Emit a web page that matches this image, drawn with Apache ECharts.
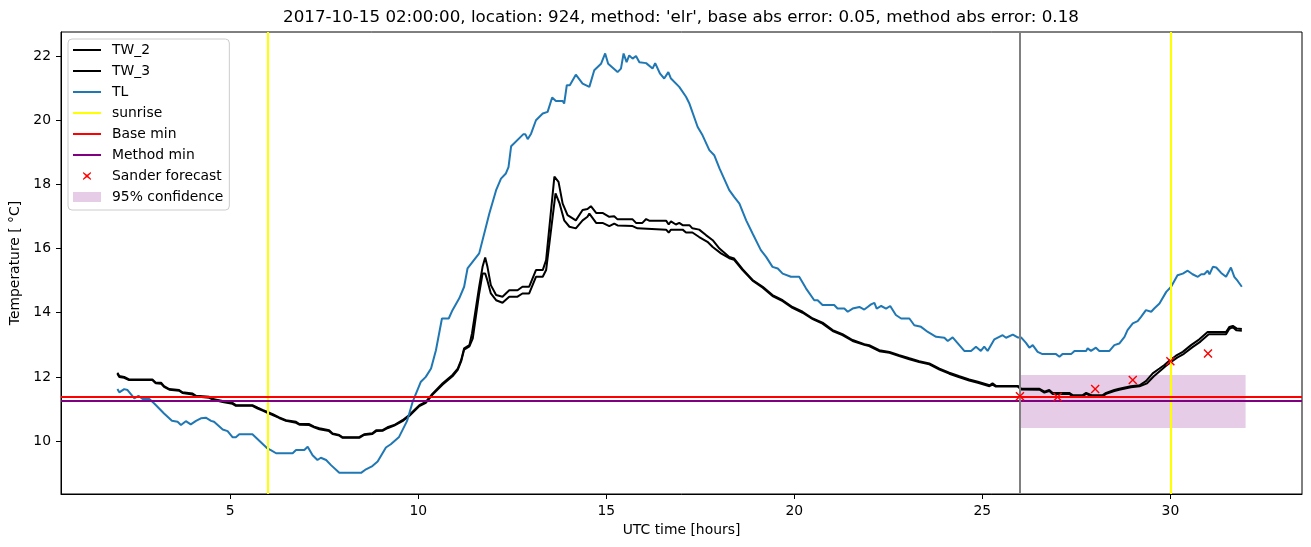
<!DOCTYPE html>
<html>
<head>
<meta charset="utf-8">
<script src="https://cdn.jsdelivr.net/npm/echarts@6/dist/echarts.min.js"></script>
<style>
html,body{margin:0;padding:0;background:#fff;}
#chart{width:1311px;height:547px;}
</style>
</head>
<body>
<div id="chart"></div>
<script>
// ---- data (hours UTC since start of day, temperature in °C) ----
const titleText = "2017-10-15 02:00:00, location: 924, method: 'elr', base abs error: 0.05, method abs error: 0.18";
const xTicks = [5, 10, 15, 20, 25, 30];
const yTicks = [10, 12, 14, 16, 18, 20, 22];

const tw2Hours = [2.00,2.05,2.18,2.31,2.93,3.02,3.16,3.24,3.38,3.64,3.73,4.00,4.09,4.44,4.57,4.80,5.06,5.15,5.59,5.73,5.86,5.99,6.13,6.30,6.48,6.75,6.84,7.10,7.23,7.37,7.63,7.72,7.90,7.99,8.43,8.56,8.78,8.88,9.05,9.18,9.36,9.58,9.76,10.03,10.20,10.38,10.65,10.91,11.05,11.14,11.22,11.36,11.43,11.62,11.71,11.78,11.84,11.93,12.07,12.24,12.42,12.64,12.77,12.95,13.13,13.31,13.40,13.62,13.73,13.84,13.97,14.19,14.37,14.50,14.59,14.73,14.90,15.08,15.21,15.30,15.70,15.79,15.96,16.06,16.14,16.59,16.66,16.72,16.85,16.94,17.03,17.21,17.29,17.47,17.65,17.83,18.01,18.27,18.40,18.63,18.89,19.16,19.42,19.69,19.95,20.22,20.49,20.75,21.02,21.28,21.55,21.86,21.99,22.26,22.53,22.79,23.06,23.32,23.59,23.86,24.12,24.39,24.65,24.88,25.19,25.27,25.36,25.94,26.03,26.52,26.65,26.78,26.87,27.31,27.40,27.67,27.76,27.90,28.20,28.29,28.51,28.64,28.95,29.18,29.35,29.53,29.71,29.84,29.97,30.15,30.33,30.55,30.77,30.99,31.48,31.57,31.66,31.76,31.90];
const tw2Temps = [12.13,12.03,12.00,11.92,11.92,11.82,11.82,11.71,11.62,11.59,11.52,11.48,11.41,11.38,11.30,11.25,11.19,11.12,11.12,11.04,10.97,10.91,10.84,10.74,10.65,10.60,10.53,10.53,10.45,10.40,10.34,10.24,10.19,10.12,10.12,10.21,10.24,10.34,10.34,10.43,10.50,10.65,10.81,11.12,11.22,11.48,11.80,12.06,12.26,12.52,12.89,12.99,13.36,14.81,15.43,15.72,15.43,14.86,14.55,14.50,14.70,14.70,14.81,14.81,15.33,15.33,15.64,18.24,18.08,17.40,17.04,16.88,17.20,17.23,17.32,17.11,17.11,16.99,17.01,16.91,16.91,16.80,16.80,16.92,16.87,16.87,16.75,16.85,16.75,16.80,16.73,16.73,16.63,16.59,16.42,16.26,16.00,15.74,15.69,15.35,15.02,14.81,14.55,14.39,14.18,14.03,13.82,13.69,13.46,13.33,13.15,13.02,12.99,12.83,12.78,12.68,12.58,12.49,12.42,12.26,12.13,12.02,11.92,11.85,11.74,11.80,11.72,11.72,11.64,11.63,11.54,11.59,11.50,11.50,11.43,11.43,11.50,11.43,11.43,11.50,11.59,11.63,11.71,11.74,11.87,12.11,12.26,12.37,12.50,12.66,12.78,12.99,13.17,13.40,13.40,13.56,13.59,13.51,13.49];

const tw3Hours = [2.00,2.05,2.18,2.31,2.93,3.02,3.16,3.24,3.38,3.64,3.73,4.00,4.09,4.44,4.57,4.80,5.06,5.15,5.59,5.73,5.86,5.99,6.13,6.30,6.48,6.75,6.84,7.10,7.23,7.37,7.63,7.72,7.90,7.99,8.43,8.56,8.78,8.88,9.05,9.18,9.36,9.58,9.76,10.03,10.20,10.38,10.65,10.91,11.05,11.14,11.22,11.36,11.45,11.62,11.71,11.78,11.84,11.93,12.07,12.24,12.42,12.64,12.77,12.95,13.13,13.31,13.40,13.65,13.76,13.88,14.02,14.19,14.37,14.50,14.55,14.73,14.90,15.08,15.21,15.30,15.70,15.83,16.59,16.66,16.72,17.03,17.12,17.29,17.47,17.69,17.83,18.05,18.27,18.40,18.63,18.89,19.16,19.42,19.69,19.95,20.22,20.49,20.75,21.02,21.28,21.55,21.86,21.99,22.26,22.53,22.79,23.06,23.32,23.59,23.86,24.12,24.39,24.65,24.88,25.19,25.27,25.36,25.94,26.03,26.52,26.65,26.78,26.87,27.31,27.40,27.67,27.76,27.90,28.20,28.29,28.51,28.64,28.95,29.18,29.38,29.56,29.74,29.87,30.00,30.18,30.36,30.58,30.80,31.02,31.48,31.57,31.66,31.76,31.90];
const tw3Temps = [12.10,12.00,11.97,11.90,11.90,11.80,11.79,11.69,11.60,11.57,11.50,11.45,11.39,11.35,11.28,11.22,11.16,11.10,11.10,11.01,10.95,10.88,10.81,10.72,10.63,10.57,10.51,10.50,10.43,10.37,10.31,10.22,10.17,10.10,10.10,10.19,10.22,10.31,10.32,10.40,10.48,10.62,10.78,11.09,11.19,11.45,11.76,12.02,12.22,12.48,12.85,12.95,13.20,14.60,15.22,15.22,15.00,14.60,14.39,14.31,14.50,14.50,14.60,14.60,15.12,15.12,15.33,17.72,17.40,16.88,16.68,16.63,16.88,16.99,17.09,16.80,16.80,16.70,16.78,16.72,16.70,16.63,16.59,16.50,16.59,16.59,16.50,16.50,16.36,16.21,16.05,15.85,15.70,15.65,15.32,15.00,14.78,14.52,14.36,14.15,14.00,13.80,13.66,13.43,13.30,13.12,13.00,12.96,12.80,12.75,12.65,12.55,12.46,12.39,12.23,12.10,11.99,11.89,11.82,11.71,11.76,11.70,11.70,11.61,11.60,11.51,11.56,11.47,11.47,11.40,11.40,11.47,11.40,11.40,11.47,11.56,11.60,11.68,11.71,11.80,12.02,12.20,12.33,12.45,12.60,12.72,12.92,13.10,13.33,13.33,13.50,13.55,13.45,13.44];

const tlHours = [2.00,2.05,2.18,2.27,2.45,2.56,2.67,2.85,2.98,3.24,3.45,3.60,3.69,3.82,3.95,4.09,4.22,4.35,4.49,4.57,4.80,4.93,5.06,5.15,5.24,5.59,5.99,6.08,6.22,6.66,6.75,6.97,7.06,7.19,7.32,7.41,7.55,7.68,7.90,8.48,8.61,8.78,8.92,9.14,9.27,9.49,9.70,9.85,10.07,10.20,10.34,10.47,10.63,10.81,10.91,11.09,11.22,11.31,11.62,11.89,12.07,12.20,12.33,12.40,12.47,12.79,12.85,12.91,13.00,13.13,13.31,13.44,13.56,13.66,13.84,13.88,13.95,14.03,14.19,14.37,14.55,14.68,14.86,14.97,15.05,15.30,15.39,15.46,15.54,15.61,15.70,15.79,15.88,16.06,16.23,16.30,16.43,16.54,16.65,16.72,16.94,17.12,17.21,17.43,17.56,17.74,17.87,18.01,18.27,18.40,18.54,18.72,18.89,19.11,19.25,19.42,19.56,19.69,19.91,20.13,20.31,20.53,20.62,20.75,21.06,21.15,21.33,21.42,21.55,21.73,21.86,21.95,22.04,22.13,22.19,22.31,22.44,22.55,22.70,22.84,23.06,23.19,23.37,23.55,23.77,23.99,24.08,24.21,24.52,24.70,24.83,24.96,25.05,25.14,25.32,25.54,25.63,25.81,25.94,26.03,26.16,26.25,26.34,26.47,26.60,26.96,27.05,27.13,27.36,27.45,27.76,27.80,27.89,28.02,28.11,28.38,28.51,28.64,28.78,28.86,29.00,29.13,29.22,29.35,29.49,29.57,29.71,29.89,30.02,30.19,30.33,30.46,30.59,30.73,30.82,30.90,30.99,31.04,31.13,31.22,31.35,31.48,31.61,31.70,31.79,31.90];
const tlTemps = [11.62,11.52,11.62,11.59,11.33,11.41,11.31,11.31,11.17,10.86,10.63,10.60,10.50,10.62,10.52,10.63,10.71,10.73,10.63,10.60,10.36,10.31,10.12,10.12,10.21,10.21,9.77,9.72,9.62,9.62,9.72,9.72,9.82,9.56,9.41,9.48,9.41,9.25,9.01,9.01,9.12,9.22,9.36,9.80,9.90,10.13,10.62,11.22,11.85,12.00,12.26,12.83,13.82,13.82,14.08,14.45,14.81,15.38,15.85,17.09,17.82,18.18,18.34,18.54,19.19,19.56,19.56,19.41,19.58,20.00,20.21,20.26,20.71,20.60,20.60,20.52,21.09,21.09,21.42,21.14,21.04,21.56,21.76,22.08,21.76,21.50,21.61,22.08,21.81,22.02,21.92,22.00,21.81,21.78,21.61,21.78,21.45,21.30,21.50,21.30,21.04,20.73,20.52,19.79,19.53,19.07,18.91,18.50,17.82,17.61,17.40,16.88,16.47,15.95,15.74,15.43,15.38,15.22,15.12,15.12,14.76,14.39,14.39,14.24,14.24,14.13,14.13,14.03,14.13,14.18,14.10,14.18,14.26,14.31,14.13,14.21,14.13,14.21,13.93,13.82,13.82,13.61,13.56,13.40,13.25,13.22,13.12,13.23,12.81,12.81,12.94,12.81,12.94,12.81,13.17,13.30,13.22,13.32,13.23,13.23,13.06,12.91,12.99,12.78,12.71,12.71,12.63,12.71,12.71,12.81,12.81,12.89,12.81,12.91,12.81,12.81,12.99,13.04,13.25,13.46,13.67,13.74,13.87,14.08,14.03,14.13,14.29,14.65,14.81,15.17,15.22,15.31,15.20,15.12,15.20,15.20,15.31,15.20,15.43,15.41,15.24,15.12,15.41,15.12,14.99,14.81];

const sunriseHours = [6, 30];
const forecastStartHour = 26;
const baseMin = 11.38;
const methodMin = 11.26;
const sanderHours = [26, 27, 28, 29, 30, 31];
const sanderTemps = [11.40, 11.37, 11.62, 11.90, 12.49, 12.73];
const confHours = [26, 32];
const confBand = [10.41, 12.06];

// ---- helpers ----
const pairs = (xs, ys) => xs.map((x, i) => [x, ys[i]]);
const FONT = 'DejaVu Sans';
const lineIcon = 'path://M0,0M34,14M0,6H28V8H0Z';
const xIcon = 'path://M0,0M34,14M10,4.2L10.2,3L14,5.8L17.8,3L18,4.2L15.2,7L18,9.8L17.8,11L14,8.2L10.2,11L10,9.8L12.8,7Z';
const patchIcon = 'path://M0,0M34,14M0,2H28V12H0Z';
const xSymbol = 'path://M0,1.1L1.1,0L5,3.9L8.9,0L10,1.1L6.1,5L10,8.9L8.9,10L5,6.1L1.1,10L0,8.9L3.9,5Z';
const CONF_COLOR = 'rgba(128,0,128,0.2)';

const chart = echarts.init(document.getElementById('chart'), null, {renderer: 'canvas'});
const vLineStyle = (c) => ({color: c, width: 2, type: 'solid'});

chart.setOption({
  animation: false,
  backgroundColor: '#fff',
  textStyle: {fontFamily: FONT},
  title: {
    text: titleText,
    left: 681, top: 9, padding: 0,
    textAlign: 'center',
    textStyle: {fontFamily: FONT, fontSize: 16.7, fontWeight: 'normal', color: '#000'}
  },
  grid: {left: 61, top: 32, right: 9, bottom: 53, show: true, borderColor: '#000', borderWidth: 1, backgroundColor: 'transparent', outerBoundsMode: 'none', containLabel: false},
  xAxis: {
    type: 'value', min: 0.5, max: 33.5,
    name: 'UTC time [hours]', nameLocation: 'middle', nameGap: 29,
    nameTextStyle: {fontFamily: FONT, fontSize: 13.9, color: '#000'},
    axisLine: {show: true, onZero: false, lineStyle: {color: '#000', width: 1}},
    axisTick: {show: true, length: 5, lineStyle: {color: '#000', width: 1}, customValues: xTicks},
    axisLabel: {show: true, margin: 10, fontFamily: FONT, fontSize: 13.9, color: '#000', customValues: xTicks},
    splitLine: {show: false}
  },
  yAxis: {
    type: 'value', min: 8.35, max: 22.75,
    name: 'Temperature [ °C]', nameLocation: 'middle', nameGap: 33, nameRotate: 90,
    nameTextStyle: {fontFamily: FONT, fontSize: 13.9, color: '#000'},
    axisLine: {show: true, onZero: false, lineStyle: {color: '#000', width: 1}},
    axisTick: {show: true, length: 5, lineStyle: {color: '#000', width: 1}, customValues: yTicks},
    axisLabel: {show: true, margin: 10, fontFamily: FONT, fontSize: 13.9, color: '#000', customValues: yTicks},
    splitLine: {show: false}
  },
  legend: {
    orient: 'vertical', left: 68, top: 39,
    padding: [4, 6, 6, 5],
    itemWidth: 34, itemHeight: 14, itemGap: 7,
    backgroundColor: 'rgba(255,255,255,0.8)',
    borderColor: '#cccccc', borderWidth: 1, borderRadius: 4,
    selectedMode: false,
    textStyle: {fontFamily: FONT, fontSize: 13.9, color: '#000', lineHeight: 14},
    data: [
      {name: 'TW_2', icon: lineIcon, itemStyle: {color: '#000'}},
      {name: 'TW_3', icon: lineIcon, itemStyle: {color: '#000'}},
      {name: 'TL', icon: lineIcon, itemStyle: {color: '#1f77b4'}},
      {name: 'sunrise', icon: lineIcon, itemStyle: {color: '#ffff00'}},
      {name: 'Base min', icon: lineIcon, itemStyle: {color: '#ff0000'}},
      {name: 'Method min', icon: lineIcon, itemStyle: {color: '#800080'}},
      {name: 'Sander forecast', icon: xIcon, itemStyle: {color: '#ff0000', opacity: 1}},
      {name: '95% confidence', icon: patchIcon, itemStyle: {color: CONF_COLOR}}
    ]
  },
  series: [
    {
      name: '95% confidence', type: 'line', data: [], color: CONF_COLOR,
      markArea: {silent: true, itemStyle: {color: CONF_COLOR},
        data: [[{xAxis: confHours[0], yAxis: confBand[0]}, {xAxis: confHours[1], yAxis: confBand[1]}]]}
    },
    {name: 'TW_2', type: 'line', data: pairs(tw2Hours, tw2Temps), showSymbol: false, symbol: 'none', color: '#000', lineStyle: {color: '#000', width: 2}, z: 3},
    {name: 'TW_3', type: 'line', data: pairs(tw3Hours, tw3Temps), showSymbol: false, symbol: 'none', color: '#000', lineStyle: {color: '#000', width: 2}, z: 3},
    {name: 'TL', type: 'line', data: pairs(tlHours, tlTemps), showSymbol: false, symbol: 'none', color: '#1f77b4', lineStyle: {color: '#1f77b4', width: 2}, z: 3},
    {
      name: 'sunrise', type: 'line', data: [], color: '#ffff00', z: 4,
      markLine: {silent: true, symbol: 'none', label: {show: false}, lineStyle: vLineStyle('#ffff00'),
        data: sunriseHours.map(h => ({xAxis: h}))}
    },
    {
      name: 'Base min', type: 'line', data: [], color: '#ff0000', z: 4,
      markLine: {silent: true, symbol: 'none', label: {show: false}, lineStyle: vLineStyle('#ff0000'),
        data: [{yAxis: baseMin}]}
    },
    {
      name: 'Method min', type: 'line', data: [], color: '#800080', z: 4,
      markLine: {silent: true, symbol: 'none', label: {show: false}, lineStyle: vLineStyle('#800080'),
        data: [{yAxis: methodMin}]}
    },
    {
      name: 'forecast start', type: 'line', data: [], color: '#808080', z: 4,
      markLine: {silent: true, symbol: 'none', label: {show: false}, lineStyle: vLineStyle('#808080'),
        data: [{xAxis: forecastStartHour}]}
    },
    {
      name: 'Sander forecast', type: 'scatter', data: pairs(sanderHours, sanderTemps),
      symbol: xSymbol, symbolSize: 9, symbolKeepAspect: true, color: '#ff0000', itemStyle: {color: '#ff0000', opacity: 1}, z: 5
    }
  ]
});
</script>
</body>
</html>
